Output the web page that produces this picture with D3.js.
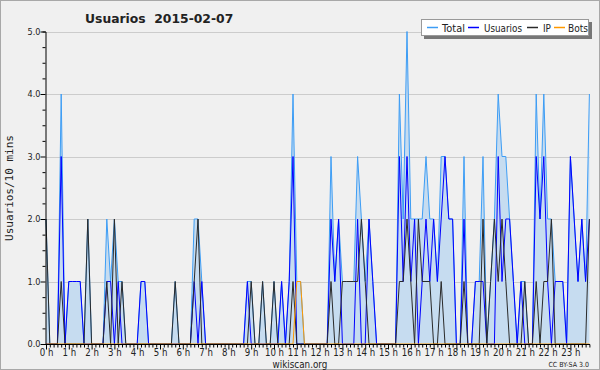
<!DOCTYPE html>
<html>
<head>
<script src="https://d3js.org/d3.v7.min.js"></script>
<style>
  body { margin: 0; background: #f0f0f0; }
  svg { display: block; }
  text { font-family: "DejaVu Sans", sans-serif; fill: #222; }
</style>
</head>
<body>
<svg id="chart" width="600" height="370"></svg>
<script>
// 10 minute slots, 144 per day
const total = [
  2,0,0,0,4,0,1,1,1,1, 0,2,0,0,0,0,2,1,2,1, 1,0,0,0,0,1,1,0,0,0,
  0,0,0,0,1,0,0,0,0,2, 2,1,0,0,0,0,0,0,0,0, 0,0,0,1,1,0,0,1,0,0,
  1,0,1,0,1,4,1,1,0,0, 0,0,0,0,0,3,1,2,1,1, 1,1,3,2,1,2,1,0,0,0,
  0,0,0,4,2,5,2,2,2,2, 3,2,2,1,3,3,2,2,0,0, 3,0,0,1,1,3,0,1,2,4,
  3,3,2,1,0,1,1,0,0,4, 2,4,2,2,1,1,1,0,3,2, 1,2,1,4
];
const usuarios = [
  0,0,0,0,3,0,1,1,1,1, 0,0,0,0,0,0,1,1,0,1, 0,0,0,0,0,1,1,0,0,0,
  0,0,0,0,0,0,0,0,0,1, 0,1,0,0,0,0,0,0,0,0, 0,0,0,1,0,0,0,0,0,0,
  0,0,1,0,1,3,0,0,0,0, 0,0,0,0,0,2,1,2,0,0, 0,0,2,0,0,2,1,0,0,0,
  0,0,0,3,1,3,1,2,0,1, 2,1,2,1,2,3,2,2,0,0, 2,0,0,1,1,1,0,0,0,3,
  1,2,2,1,0,1,0,0,0,3, 2,3,1,0,1,1,1,0,3,2, 1,2,1,2
];
const ip = [
  2,0,0,0,1,0,0,0,0,0, 0,2,0,0,0,0,1,0,2,0, 1,0,0,0,0,0,0,0,0,0,
  0,0,0,0,1,0,0,0,0,1, 2,0,0,0,0,0,0,0,0,0, 0,0,0,0,1,0,0,1,0,0,
  1,0,0,0,0,1,0,0,0,0, 0,0,0,0,0,1,0,0,1,1, 1,1,1,2,1,0,0,0,0,0,
  0,0,0,1,1,2,1,0,2,1, 1,1,0,0,1,0,0,0,0,0, 1,0,0,0,0,2,0,1,2,1,
  2,1,0,0,0,0,1,0,0,1, 0,1,1,2,0,0,0,0,0,0, 0,0,0,2
];
const bots = [
  0,0,0,0,0,0,0,0,0,0, 0,0,0,0,0,0,0,0,0,0, 0,0,0,0,0,0,0,0,0,0,
  0,0,0,0,0,0,0,0,0,0, 0,0,0,0,0,0,0,0,0,0, 0,0,0,0,0,0,0,0,0,0,
  0,0,0,0,0,0,1,1,0,0, 0,0,0,0,0,0,0,0,0,0, 0,0,0,0,0,0,0,0,0,0,
  0,0,0,0,0,0,0,0,0,0, 0,0,0,0,0,0,0,0,0,0, 0,0,0,0,0,0,0,0,0,0,
  0,0,0,0,0,0,0,0,0,0, 0,0,0,0,0,0,0,0,0,0, 0,0,0,0
];
const hourLabels = d3.range(24).map(h => h + ' h');
const yTicks = [0, 1, 2, 3, 4, 5];

const svg = d3.select('#chart');
const plotLeft = 46, plotRight = 589.4, plotTop = 31.5, plotBottom = 344;

// squeeze text horizontally, the original uses a condensed face
function condense(sel, k) {
  sel.each(function () {
    const w = this.getComputedTextLength();
    if (w > 0) d3.select(this).attr('textLength', w * k).attr('lengthAdjust', 'spacingAndGlyphs');
  });
}

svg.append('rect').attr('x', 0.5).attr('y', 0.5).attr('width', 599).attr('height', 369)
  .attr('fill', '#f0f0f0').attr('stroke', '#a8a8a8');

const x = d3.scaleLinear().domain([0, 143]).range([plotLeft, plotRight]);
const y = d3.scaleLinear().domain([0, 5]).range([plotBottom, plotTop]);

// grid
svg.append('g').selectAll('line').data(yTicks.slice(1)).enter().append('line')
  .attr('x1', plotLeft).attr('x2', 590).attr('y1', d => Math.round(y(d)) + 0.5).attr('y2', d => Math.round(y(d)) + 0.5)
  .attr('stroke', '#cccccc');

// area + lines
const idx = d3.range(total.length);
svg.append('path').datum(idx)
  .attr('d', d3.area().x(i => x(i)).y0(y(0)).y1(i => y(total[i])))
  .attr('fill', '#c6dcf0');

const series = [
  { vals: total, color: '#3d9df5' },
  { vals: usuarios, color: '#0000ff' },
  { vals: ip, color: '#2a2a2a' },
  { vals: bots, color: '#ff9900' }
];
series.forEach(s => {
  svg.append('path').datum(idx)
    .attr('d', d3.line().x(i => x(i)).y(i => y(s.vals[i])))
    .attr('fill', 'none').attr('stroke', s.color).attr('stroke-width', 1);
});

// y axis
const yAxis = svg.append('g').attr('transform', `translate(${plotLeft - 0.5},0)`)
  .call(d3.axisLeft(y).tickValues(d3.range(0, 5.01, 0.25)).tickSize(3)
    .tickFormat(d => Number.isInteger(d) ? d.toFixed(1) : ''));
yAxis.attr('font-family', null).attr('font-size', null);
yAxis.selectAll('path').attr('stroke', '#000');
yAxis.selectAll('line').attr('stroke', '#000').attr('x2', d => Number.isInteger(d) ? -5 : -3);
yAxis.selectAll('text').attr('font-size', 9).attr('x', -5).attr('fill', '#222');
condense(yAxis.selectAll('text'), 0.9);

// x axis
const xAxis = svg.append('g').attr('transform', `translate(0,${plotBottom + 0.5})`)
  .call(d3.axisBottom(x).tickValues(idx).tickSize(3)
    .tickFormat(i => i % 6 === 0 ? hourLabels[i / 6] : ''));
xAxis.attr('font-family', null).attr('font-size', null);
xAxis.select('.domain').attr('stroke', '#000').attr('d', `M${plotLeft},0H590`);
xAxis.selectAll('line').attr('stroke', '#000').attr('y2', i => i % 6 === 0 ? 5 : 3);
xAxis.selectAll('text').attr('font-size', 10).attr('y', 4).attr('fill', '#222');
condense(xAxis.selectAll('text'), 0.86);

// title
const title = svg.append('text').attr('x', 85).attr('y', 23).attr('font-size', 13).attr('font-weight', 'bold')
  .attr('xml:space', 'preserve').text('Usuarios  2015-02-07');
condense(title, 0.95);

// y label
svg.append('text').attr('transform', 'translate(13,188) rotate(-90)').attr('text-anchor', 'middle')
  .attr('font-size', 11).style('font-family', '"DejaVu Sans Mono", monospace')
  .text('Usuarios/10 mins');

// footer
const foot = svg.append('text').attr('x', 300).attr('y', 368).attr('text-anchor', 'middle').attr('font-size', 10).text('wikiscan.org');
condense(foot, 0.88);
const cc = svg.append('text').attr('x', 589).attr('y', 367).attr('text-anchor', 'end').attr('font-size', 7).text('CC BY-SA 3.0');
condense(cc, 0.9);

// legend
const legendItems = [
  { name: 'Total', color: '#3d9df5', lx: 427, tx: 442, tw: 23 },
  { name: 'Usuarios', color: '#0000ff', lx: 468, tx: 484, tw: 38 },
  { name: 'IP', color: '#2a2a2a', lx: 527, tx: 543, tw: 8 },
  { name: 'Bots', color: '#ff9900', lx: 554, tx: 568, tw: 20 }
];
const lg = svg.append('g');
lg.append('rect').attr('x', 424).attr('y', 22).attr('width', 168).attr('height', 17).attr('fill', '#777');
lg.append('rect').attr('x', 421.5).attr('y', 19.5).attr('width', 167).attr('height', 16).attr('fill', '#fff').attr('stroke', '#999');
legendItems.forEach(it => {
  lg.append('line').attr('x1', it.lx).attr('x2', it.lx + 11).attr('y1', 27.5).attr('y2', 27.5)
    .attr('stroke', it.color).attr('stroke-width', 1.5);
  lg.append('text').attr('x', it.tx).attr('y', 31.5).attr('font-size', 11)
    .attr('textLength', it.tw).attr('lengthAdjust', 'spacingAndGlyphs').text(it.name);
});
</script>
</body>
</html>
